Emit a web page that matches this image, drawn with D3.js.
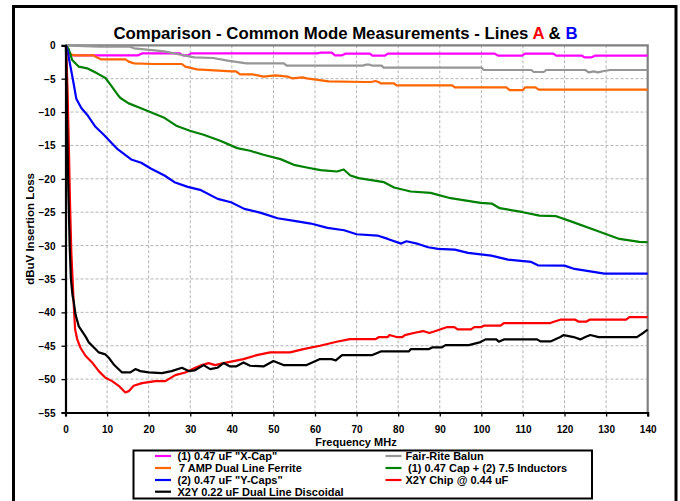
<!DOCTYPE html>
<html>
<head>
<meta charset="utf-8">
<script src="https://cdn.jsdelivr.net/npm/d3@7/dist/d3.min.js"></script>
<style>
html,body{margin:0;padding:0;background:#fff;}
svg{display:block;font-family:"Liberation Sans",Arial,sans-serif;}
</style>
</head>
<body>
<svg id="chart" width="680" height="501"></svg>
<script>
// ---- data ----
const xTicks = [0,10,20,30,40,50,60,70,80,90,100,110,120,130,140];
const yTicks = [0,-5,-10,-15,-20,-25,-30,-35,-40,-45,-50,-55];

const xcapF = [0,0.4,1.2,17.5,18.5,27.5,28.2,29.5,30.2,60.5,61.5,64,64.8,66.5,67.3,73.2,73.8,76.8,77.5,103.2,104,109.8,110.5,117.3,118,124.2,124.8,126.5,127.3,140];
const xcapV = [0,-0.8,-1.5,-1.5,-1.2,-1.2,-1.5,-1.5,-1.2,-1.2,-1.1,-1.1,-1.5,-1.5,-1.25,-1.25,-1.55,-1.55,-1.25,-1.25,-1.55,-1.55,-1.25,-1.25,-1.55,-1.55,-1.8,-1.8,-1.55,-1.55];

const balunF = [0,3,8,15.5,16.5,22,24,28,31,35.5,39,43.5,52.5,53.2,71.5,72.3,73.2,73.8,76,76.5,100,100.6,112,112.6,115,115.6,125,125.8,127,128,129.5,131,140];
const balunV = [0,-0.1,-0.2,-0.2,-0.45,-0.8,-0.95,-1.45,-1.8,-1.9,-2.3,-2.7,-2.7,-3.05,-3.05,-2.9,-2.9,-3.05,-3.05,-3.35,-3.35,-3.7,-3.7,-4.0,-4.0,-3.7,-3.7,-4.05,-3.9,-4.05,-3.85,-3.7,-3.7];

const ferriteF = [0,0.5,1.5,2.4,6.8,7.5,8.5,14.4,15.2,16.5,21,28,28.8,31.6,40,41,42,45,47.6,50.5,53.5,54.5,57,58,63.3,72,73.5,74.5,75.3,75.8,79,79.6,93,93.6,106,106.8,110,110.6,113,113.8,140];
const ferriteV = [0,-0.9,-1.4,-1.5,-1.5,-1.8,-2.1,-2.1,-2.45,-2.7,-2.8,-2.8,-3.2,-3.6,-3.9,-3.9,-4.35,-4.35,-4.7,-4.5,-4.7,-4.95,-4.8,-4.95,-5.4,-5.5,-5.5,-5.35,-5.5,-5.7,-5.7,-6.0,-6.0,-6.3,-6.3,-6.7,-6.7,-6.3,-6.3,-6.65,-6.65];

const capIndF = [0,0.8,1.6,3.2,5.2,7.6,9.6,10.8,12.8,13.2,15.2,18,20.8,23.6,26.8,29.9,33.2,37.2,41.3,44.4,47.6,51.7,54.9,58,61.3,65.3,66.9,68.5,70.5,76.6,79,83,87.8,92.6,99.8,102.5,104.4,110,114,118,121.2,127.6,133.2,138,140];
const capIndV = [0,-0.6,-2.2,-3.2,-3.45,-4.2,-4.9,-5.9,-7.6,-7.9,-8.7,-9.4,-10.1,-10.8,-12.1,-12.8,-13.4,-14.3,-15.4,-15.8,-16.4,-17.05,-17.9,-18.3,-18.7,-18.9,-18.6,-19.5,-19.9,-20.5,-21.3,-21.9,-22.1,-22.9,-23.6,-23.7,-24.4,-25.0,-25.5,-25.6,-26.3,-27.75,-29.0,-29.45,-29.5];

const ycapF = [0,0.4,0.9,1.8,2.6,3.8,5.2,7.2,9.2,11.2,12.6,15.8,18.2,20.6,23.8,26.2,29.4,32.6,36.6,39.8,43,47,51,55,59,63,67,70,75,77.5,80.7,82,84.8,87.2,89.6,93.6,96.8,102.4,106.4,112,113.6,120,122.4,129.6,140];
const ycapV = [0,-0.5,-2.2,-5.2,-8.0,-9.4,-10.4,-12.2,-13.4,-14.7,-15.6,-17.1,-17.6,-18.5,-19.5,-20.5,-21.2,-21.7,-23.0,-23.5,-24.5,-25.1,-25.9,-26.3,-26.7,-27.35,-27.7,-28.3,-28.5,-29.0,-29.7,-29.35,-29.75,-30.25,-30.5,-30.6,-31.1,-31.5,-32.1,-32.45,-32.95,-33.0,-33.5,-34.2,-34.2];

const chipF = [0.1,0.3,0.5,0.8,1.1,1.4,1.7,2.0,2.3,2.8,3.6,4.8,6.4,8,9.6,11.2,12.8,14.4,15.2,16.4,18.4,21.6,24,26.4,28.8,31.2,32.8,34.4,36,38,40.4,42.8,46,49.2,54,57.2,61.2,65.2,68.4,74.6,75.4,77.5,77.9,79.6,81,81.6,84,86,87.5,89,91.8,93.5,94.3,97.5,98.3,100,100.6,104.6,105.4,116.6,117.4,119,122.6,123.4,125.2,126,134.8,135.6,140];
const chipV = [0,-3,-7,-15,-24,-31,-35,-39,-42.5,-44.0,-45.3,-46.5,-47.5,-48.8,-49.8,-50.3,-51.0,-52.0,-51.8,-51.0,-50.6,-50.3,-50.3,-49.4,-49.0,-48.3,-47.9,-47.6,-47.9,-47.6,-47.3,-47.0,-46.4,-46.0,-46.0,-45.5,-45.0,-44.4,-44.0,-44.0,-43.7,-43.7,-43.4,-43.7,-43.7,-43.4,-43.05,-42.8,-43.1,-42.8,-42.2,-42.2,-42.55,-42.55,-42.2,-42.2,-42.0,-42.0,-41.6,-41.6,-41.4,-41.1,-41.1,-41.4,-41.4,-41.1,-41.1,-40.7,-40.7];

const discF = [0.1,0.4,0.7,1.0,1.3,1.7,2.0,2.4,3.2,4.8,5.6,7.2,8,9.6,10.4,11.6,13.6,15.6,16.8,18,20,23.2,25.5,28,29.6,31,33.2,34.8,36.5,38,39.6,41,42.8,44.4,47.6,50,52.4,58,61.2,64,65,66.5,73.8,75.8,82.6,83,87.4,88.2,90.5,91.4,97,99.8,101,103.6,104.2,105.4,113.4,114.2,116.6,119,119.8,122.2,123.8,125,126.2,128.2,137.4,139,140];
const discV = [0,-12,-22,-30,-35,-37.5,-38.5,-40.3,-42.1,-43.6,-44.5,-45.5,-46.0,-46.3,-46.8,-47.8,-49.0,-49.0,-48.5,-48.8,-49.0,-49.1,-48.8,-48.3,-48.8,-48.7,-47.9,-48.5,-48.3,-47.6,-48.1,-48.1,-47.5,-48.0,-48.1,-47.3,-47.9,-47.9,-47.0,-47.0,-47.2,-46.4,-46.4,-45.85,-45.85,-45.5,-45.5,-45.25,-45.25,-44.9,-44.9,-44.45,-44.05,-44.05,-44.4,-44.05,-44.05,-44.35,-44.35,-43.7,-43.4,-43.7,-44.05,-43.7,-43.4,-43.7,-43.7,-43.05,-42.6];

const seriesNames = ['(1) 0.47 uF "X-Cap"','Fair-Rite Balun','7 AMP Dual Line Ferrite','(1) 0.47 Cap + (2) 7.5 Inductors','(2) 0.47 uF "Y-Caps"','X2Y Chip @ 0.44 uF','X2Y 0.22 uF Dual Line Discoidal'];
const seriesColors = ['#ff00ff','#969696','#ff6600','#008000','#0000ff','#ff0000','#000000'];
const seriesF = [xcapF,balunF,ferriteF,capIndF,ycapF,chipF,discF];
const seriesV = [xcapV,balunV,ferriteV,capIndV,ycapV,chipV,discV];

// ---- layout ----
const svg = d3.select('#chart');
const L = 65.5, R = 647.7, T = 45.3, B = 412.5;
const x = d3.scaleLinear().domain([0,140]).range([L,R]);
const y = d3.scaleLinear().domain([-55,0]).range([B,T]);

// outer border
svg.append('rect').attr('x',13.5).attr('y',6.5).attr('width',662.5).attr('height',520)
  .attr('fill','#fff').attr('stroke','#000').attr('stroke-width',3);

// title
const title = svg.append('text').attr('x',345.5).attr('y',39).attr('text-anchor','middle')
  .attr('font-size',16.8).attr('font-weight','bold').attr('fill','#000');
title.append('tspan').text('Comparison - Common Mode Measurements - Lines ');
title.append('tspan').attr('fill','#ff0000').text('A');
title.append('tspan').text(' & ');
title.append('tspan').attr('fill','#0000ff').text('B');

// grid
const grid = svg.append('g');
grid.selectAll('.gx').data(xTicks.filter(d=>d>0&&d<140)).enter().append('line')
  .attr('x1',d=>x(d)).attr('x2',d=>x(d)).attr('y1',T).attr('y2',B)
  .attr('stroke','#b4b4b4').attr('stroke-width',1).attr('stroke-dasharray','3,2');
grid.selectAll('.gy').data(yTicks.filter(d=>d<0&&d>-55)).enter().append('line')
  .attr('x1',L).attr('x2',R).attr('y1',d=>y(d)).attr('y2',d=>y(d))
  .attr('stroke','#b4b4b4').attr('stroke-width',1).attr('stroke-dasharray','3,2');

// plot border (top/right grey)
svg.append('path').attr('d',`M${L},${T}H${R}V${B}`).attr('fill','none')
  .attr('stroke','#808080').attr('stroke-width',2.2);

// series lines
const line = d3.line().x(d=>x(d[0])).y(d=>y(d[1]));
const lines = svg.append('g');
seriesF.forEach((fs,i)=>{
  const pts = fs.map((f,j)=>[f,seriesV[i][j]]);
  lines.append('path').datum(pts).attr('d',line).attr('fill','none')
    .attr('stroke',seriesColors[i]).attr('stroke-width',2.2)
    .attr('stroke-linejoin','round');
});

// axes
const xAxis = d3.axisBottom(x).tickValues(xTicks).tickSize(4).tickPadding(9).tickFormat(d3.format('d'));
const yAxis = d3.axisLeft(y).tickValues(yTicks).tickSize(4).tickPadding(6).tickFormat(d3.format('d'));
const gx = svg.append('g').attr('transform',`translate(0,${B})`).call(xAxis);
const gy = svg.append('g').attr('transform',`translate(${L},0)`).call(yAxis);
[gx,gy].forEach(g=>{
  g.select('.domain').attr('stroke','#000').attr('stroke-width',2.2);
  g.selectAll('.tick line').attr('stroke','#000').attr('stroke-width',1.3);
  g.selectAll('.tick text').attr('font-size',10).attr('font-weight','bold')
    .attr('font-family','"Liberation Sans",Arial,sans-serif').attr('fill','#000');
});
gy.selectAll('.tick text').attr('dy','0.35em');

// axis titles
svg.append('text').attr('x',356).attr('y',446).attr('text-anchor','middle')
  .attr('font-size',11).attr('font-weight','bold').text('Frequency MHz');
svg.append('text').attr('transform',`translate(34,${(T+B)/2}) rotate(-90)`)
  .attr('text-anchor','middle').attr('font-size',11.5).attr('font-weight','bold').text('dBuV Insertion Loss');

// legend
const lg = svg.append('g');
lg.append('rect').attr('x',133.5).attr('y',450.5).attr('width',458.5).attr('height',48)
  .attr('fill','#fff').attr('stroke','#000').attr('stroke-width',2);
const rowsY = [456,468,480,491.7];
const colLine = [155,385.5];
const colText = [177.5,405.5];
const extraShift = [0,0,1.5,2.5,0,0,0];
seriesNames.forEach((name,i)=>{
  const col = i===6 ? 0 : i%2;
  const row = Math.floor(i/2);
  const yy = rowsY[row];
  lg.append('line').attr('x1',colLine[col]).attr('x2',colLine[col]+16).attr('y1',yy).attr('y2',yy)
    .attr('stroke',seriesColors[i]).attr('stroke-width',2.2);
  lg.append('text').attr('x',colText[col]+extraShift[i]).attr('y',yy).attr('dy','0.35em')
    .attr('font-size',11).attr('font-weight','bold').text(name);
});
</script>
</body>
</html>
